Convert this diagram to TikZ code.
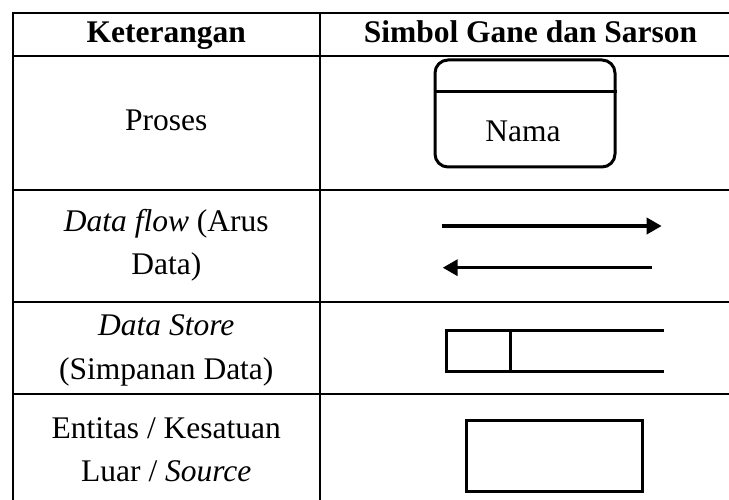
\documentclass[tikz,border=0pt]{standalone}
\usepackage{fontspec}
\setmainfont{Liberation Serif}
\usetikzlibrary{arrows.meta}
\begin{document}
\begin{tikzpicture}[x=1pt,y=-1pt,
  grid/.style={line width=2pt},
  sym/.style={draw, line width=3pt, inner sep=0pt},
  txt/.style={inner sep=0pt, anchor=base, font=\fontsize{31.5}{43}\selectfont},
  hdr/.style={inner sep=0pt, anchor=base, font=\fontsize{31.5}{43}\selectfont\bfseries},
  flow/.style={line width=3.5pt, -{Triangle[length=15pt,width=16pt]}}]
\useasboundingbox (0,0) rectangle (729,500);
\begin{scope}
\clip (0,0) rectangle (729,500);
% table grid
\draw[grid] (12.7,520) -- (12.7,13.3) -- (745,13.3);
\draw[grid] (320,13.3) -- (320,520);
\draw[grid] (12.7,56) -- (745,56);
\draw[grid] (12.7,190) -- (745,190);
\draw[grid] (12.7,301.7) -- (745,301.7);
\draw[grid] (12.7,394.3) -- (745,394.3);
\end{scope}
% header
\node[hdr] (h1) at (166.3,42.7) {Keterangan};
\node[hdr] (h2) at (530.5,42.7) {Simbol Gane dan Sarson};
% row 1
\node[txt] (t1) at (166.3,131) {Proses};
\node[sym, rounded corners=13pt, minimum width=180pt, minimum height=107pt] (proc) at (525,113.5) {};
\draw[line width=3pt] (proc.west |- 0,92) -- (proc.east |- 0,92);
\node[txt] (nama) at (523,141.7) {Nama};
% row 2
\node[txt] (t2a) at (166.3,231.7) {\textit{Data flow} (Arus};
\node[txt] (t2b) at (166.3,274) {Data)};
\coordinate (a1s) at (441.7,226);
\coordinate (a1e) at (661.7,226);
\coordinate (a2s) at (651.7,267.7);
\coordinate (a2e) at (442.7,267.7);
\draw[flow] (a1s) -- (a1e);
\draw[flow] (a2s) -- (a2e);
% row 3
\node[txt] (t3a) at (166.3,335) {\textit{Data Store}};
\node[txt] (t3b) at (166.3,379) {(Simpanan Data)};
\coordinate (s1) at (664,330);
\coordinate (s2) at (446,330);
\coordinate (s3) at (446,371.7);
\coordinate (s4) at (664,371.7);
\coordinate (d1) at (510,330);
\coordinate (d2) at (510,371.7);
\draw[line width=3pt] (s1) -- (s2) -- (s3) -- (s4);
\draw[line width=3pt] (d1) -- (d2);
% row 4
\node[txt] (t4a) at (166.3,438) {Entitas / Kesatuan};
\node[txt] (t4b) at (166.3,481.7) {Luar / \textit{Source}};
\node[sym, minimum width=176pt, minimum height=71.7pt] (ent) at (554,455.85) {};
\end{tikzpicture}
\end{document}
